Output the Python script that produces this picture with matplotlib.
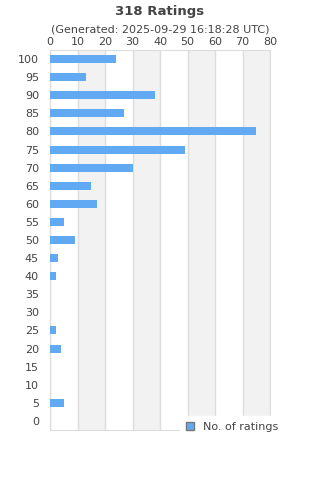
import matplotlib.pyplot as plt
from matplotlib.patches import Patch

# ratings (score buckets) and number of ratings
scores = [0, 5, 10, 15, 20, 25, 30, 35, 40, 45, 50, 55, 60, 65, 70, 75, 80, 85, 90, 95, 100]
counts = [0, 5, 0, 0, 4, 2, 0, 0, 2, 3, 9, 5, 17, 15, 30, 49, 75, 27, 38, 13, 24]
xticks = [0, 10, 20, 30, 40, 50, 60, 70, 80]

title = "318 Ratings"
subtitle = "(Generated: 2025-09-29 16:18:28 UTC)"
bar_color = "#62a9f3"
txt = "#444444"

fig = plt.figure(figsize=(3.2, 4.8), dpi=100)
ax = fig.add_axes([50 / 320, 1 - 430 / 480, 220 / 320, 380 / 480])

pos = list(range(len(scores)))
ax.barh(pos, counts, height=0.44, color=bar_color, zorder=3)

# alternating background bands
for i in range(len(xticks) - 1):
    if i % 2 == 1:
        ax.axvspan(xticks[i], xticks[i + 1], color="#f2f2f2", zorder=0, lw=0)
for x in xticks:
    ax.axvline(x, color="#dddddd", lw=1, zorder=1)

ax.set_xlim(0, 80)
ax.set_ylim(-0.5, len(scores) - 0.5)
ax.set_yticks(pos)
ax.set_yticklabels([str(s) for s in scores])
ax.set_xticks(xticks)
ax.xaxis.tick_top()
ax.tick_params(axis="both", length=0, labelsize=8, colors=txt, pad=2)
ax.tick_params(axis="y", pad=8)
for side in ["top", "right", "bottom", "left"]:
    ax.spines[side].set_color("#dddddd")

fig.text(0.5, 1 - 11 / 480, title, ha="center", va="center", fontsize=9.5,
         fontweight="bold", color=txt)
fig.text(0.5, 1 - 29 / 480, subtitle, ha="center", va="center", fontsize=8, color=txt)

handle = Patch(facecolor=bar_color, edgecolor="#777777", lw=1)
leg = fig.legend([handle], ["No. of ratings"], loc="upper left",
                 bbox_to_anchor=(174 / 320, 1 - 410 / 480), frameon=True,
                 fontsize=8, handlelength=0.7, handleheight=0.7, handletextpad=0.8,
                 borderpad=0.6, fancybox=False, labelcolor=txt)
leg.get_frame().set_edgecolor("white")
leg.get_frame().set_facecolor("white")
leg.get_frame().set_alpha(1)
leg.set_zorder(10)

fig.savefig("out.png", dpi=100)
